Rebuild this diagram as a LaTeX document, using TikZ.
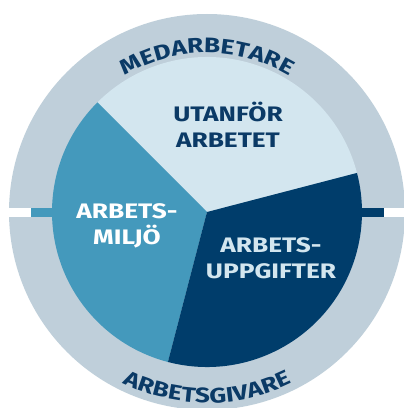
\documentclass[tikz,border=0pt]{standalone}
\usepackage{fontspec}
\newfontfamily\handfont[FakeStretch=1.25]{Fira Sans}
\usetikzlibrary{decorations.text}

\definecolor{ringgray}{HTML}{BFCFDA}
\definecolor{lightslice}{HTML}{D3E6EF}
\definecolor{midslice}{HTML}{4499BC}
\definecolor{darkslice}{HTML}{003D6B}
\definecolor{navytext}{HTML}{0B3A66}

\tikzset{
  slicetext/.style={font=\handfont\bfseries\fontsize{21}{26}\selectfont, align=center, inner sep=0pt}
}

\begin{document}
\begin{tikzpicture}[x=1pt,y=1pt]
        \useasboundingbox (0,0) rectangle (404,408);
        \coordinate (c) at (207,196);

        % Outer ring
        \fill[ringgray] (c) circle[radius=198];

        % White gap with coloured bars
        \fill[white] (0,191) rectangle (404,200);
        \fill[midslice] (31,191) rectangle (70,200);
        \fill[darkslice] (340,191) rectangle (384,200);

        % Slices
        \fill[lightslice] (c) -- ++(14.6:155) arc[start angle=14.6, end angle=135, radius=155] -- cycle;
        \fill[midslice] (c) -- ++(135:155) arc[start angle=135, end angle=255.4, radius=155] -- cycle;
        \fill[darkslice] (c) -- ++(255.4:155) arc[start angle=255.4, end angle=374.6, radius=155] -- cycle;

        % Slice labels
        \node[slicetext, text=navytext] (utanfor) at (228,283) {UTANFÖR\\ARBETET};
        \node[slicetext, text=white] (miljo) at (127,182.5) {ARBETS-\\MILJÖ};
        \node[slicetext, text=lightslice] (uppgifter) at (271,149.5) {ARBETS-\\UPPGIFTER};

        % Ring labels
        \path[decorate, decoration={text along path, text align=center,
            text={|\handfont\bfseries\fontsize{21}{26}\selectfont\color{navytext}|MEDARBETARE}}]
            (c) ++(125:159) arc[start angle=125, end angle=55, radius=159];
        \path[decorate, decoration={text along path, text align=center,
            text={|\handfont\bfseries\fontsize{21}{26}\selectfont\color{navytext}|ARBETSGIVARE}}]
            (c) ++(235:191) arc[start angle=235, end angle=305, radius=191];
\end{tikzpicture}
\end{document}
